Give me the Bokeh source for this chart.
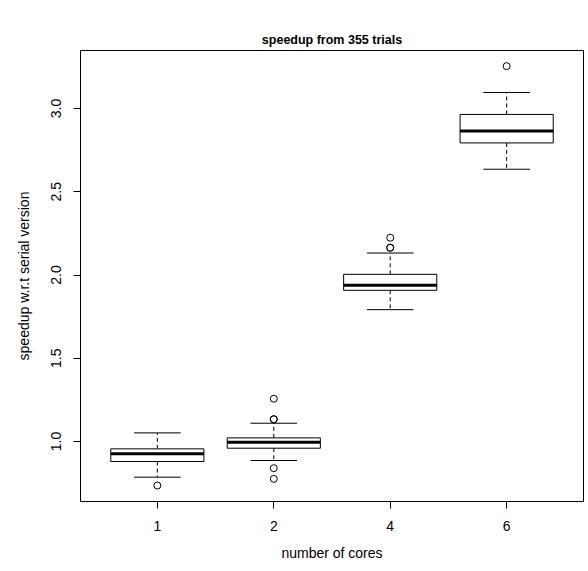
from bokeh.plotting import figure
from bokeh.models import FixedTicker, ColumnDataSource, Title
from bokeh.embed import file_html
from bokeh.resources import INLINE

# ---- data ----
cores = ["1", "2", "4", "6"]
positions = [1, 2, 3, 4]
lower_whisker = [0.786, 0.886, 1.792, 2.635]
q1 = [0.880, 0.960, 1.908, 2.793]
median = [0.926, 0.996, 1.938, 2.865]
q3 = [0.956, 1.022, 2.004, 2.964]
upper_whisker = [1.052, 1.110, 2.132, 3.096]
outlier_group = [1, 2, 2, 2, 2, 2, 3, 3, 3, 4]
outlier_value = [0.736, 1.257, 1.134, 1.134, 0.840, 0.776, 2.224, 2.164, 2.164, 3.254]

FONT = "Liberation Sans"
box_w = 0.8
cap_w = 0.4

p = figure(width=588, height=571, output_backend="svg", toolbar_location=None,
           x_range=(0.34, 4.66), y_range=(0.640, 3.348),
           min_border_left=80, min_border_right=5, min_border_top=50, min_border_bottom=70)
p.title = Title(text="speedup from 355 trials", align="center", text_font=FONT,
                text_font_size="12.5px", text_font_style="bold", text_color="black",
                standoff=8)

src = ColumnDataSource(dict(
    x=positions,
    lw=lower_whisker, q1=q1, med=median, q3=q3, uw=upper_whisker,
    left=[x - box_w / 2 for x in positions], right=[x + box_w / 2 for x in positions],
    cl=[x - cap_w / 2 for x in positions], cr=[x + cap_w / 2 for x in positions],
))

# whiskers (dashed)
p.segment(x0="x", y0="q3", x1="x", y1="uw", source=src, line_color="black",
          line_width=1, line_dash="4 3")
p.segment(x0="x", y0="q1", x1="x", y1="lw", source=src, line_color="black",
          line_width=1, line_dash="4 3")
# caps
p.segment(x0="cl", y0="uw", x1="cr", y1="uw", source=src, line_color="black", line_width=1)
p.segment(x0="cl", y0="lw", x1="cr", y1="lw", source=src, line_color="black", line_width=1)
# boxes
p.quad(left="left", right="right", bottom="q1", top="q3", source=src,
       fill_color="white", line_color="black", line_width=1)
# medians
p.segment(x0="left", y0="med", x1="right", y1="med", source=src,
          line_color="black", line_width=3)
# outliers
p.scatter(x=outlier_group, y=outlier_value, marker="circle", size=7,
          fill_color=None, line_color="black", line_width=1)

p.grid.visible = False
p.outline_line_color = "black"
p.outline_line_width = 1
p.background_fill_color = "white"
p.border_fill_color = "white"

xa = p.xaxis[0]
xa.ticker = FixedTicker(ticks=positions)
xa.major_label_overrides = {pos: lab for pos, lab in zip(positions, cores)}
xa.axis_label = "number of cores"
ya = p.yaxis[0]
ya.ticker = FixedTicker(ticks=[1.0, 1.5, 2.0, 2.5, 3.0])
ya.major_label_overrides = {1.0: "1.0", 1.5: "1.5", 2.0: "2.0", 2.5: "2.5", 3.0: "3.0"}
ya.axis_label = "speedup w.r.t serial version"
ya.major_label_orientation = "vertical"

for ax in (xa, ya):
    ax.axis_line_color = None
    ax.major_tick_in = 0
    ax.major_tick_out = 7
    ax.major_tick_line_color = "black"
    ax.minor_tick_line_color = None
    ax.major_label_text_font = FONT
    ax.major_label_text_font_size = "14px"
    ax.major_label_text_color = "black"
    ax.axis_label_text_font = FONT
    ax.axis_label_text_font_size = "14px"
    ax.axis_label_text_font_style = "normal"
    ax.axis_label_text_color = "black"

xa.major_label_standoff = 12
xa.axis_label_standoff = 11
ya.major_label_standoff = 12
ya.axis_label_standoff = 17

open("out.html", "w").write(file_html(p, INLINE))
